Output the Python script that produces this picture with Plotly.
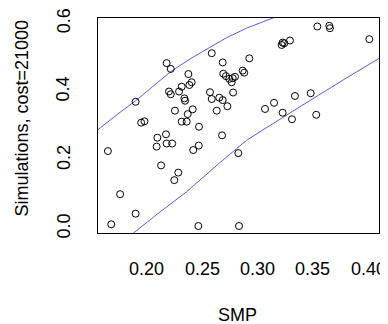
import plotly.graph_objects as go

# Scatter data (SMP vs simulations)
smp = [0.165, 0.168, 0.176, 0.190, 0.190, 0.195, 0.198, 0.209, 0.2096, 0.213,
       0.2174, 0.218, 0.223, 0.218, 0.2217, 0.2201, 0.2217, 0.2292, 0.2255, 0.2249,
       0.2285, 0.2316, 0.2376, 0.2406, 0.2385, 0.234, 0.2346, 0.2415, 0.237, 0.2316,
       0.2361, 0.2472, 0.242, 0.247, 0.2466, 0.2587, 0.2686, 0.2571, 0.2587, 0.2655,
       0.2686, 0.2632, 0.2728, 0.268, 0.2827, 0.2833, 0.2691, 0.2715, 0.2745, 0.2776,
       0.2797, 0.2767, 0.278, 0.2866, 0.288, 0.2926, 0.3068, 0.3149, 0.3227, 0.3311,
       0.3338, 0.348, 0.353, 0.3227, 0.3218, 0.3242, 0.3293, 0.354, 0.3648, 0.3654,
       0.4009]
sims = [0.219, 0.005, 0.093, 0.036, 0.363, 0.302, 0.306, 0.232, 0.258, 0.177,
        0.268, 0.241, 0.241, 0.476, 0.459, 0.393, 0.385, 0.393, 0.337, 0.134,
        0.156, 0.407, 0.444, 0.420, 0.412, 0.373, 0.366, 0.341, 0.327, 0.305,
        0.305, 0.290, 0.222, 0.235, 0.000, 0.505, 0.478, 0.391, 0.371, 0.375,
        0.368, 0.337, 0.350, 0.265, 0.213, 0.000, 0.445, 0.438, 0.430, 0.432,
        0.436, 0.420, 0.390, 0.454, 0.448, 0.490, 0.342, 0.360, 0.331, 0.312,
        0.380, 0.388, 0.325, 0.536, 0.529, 0.534, 0.542, 0.583, 0.585, 0.578,
        0.546]

# Upper and lower band curves
upper_x = [0.150, 0.1558, 0.175, 0.190, 0.205, 0.222, 0.240, 0.262, 0.272, 0.290, 0.3173, 0.33]
upper_y = [0.266, 0.281, 0.330, 0.366, 0.405, 0.452, 0.490, 0.531, 0.550, 0.578, 0.612, 0.628]
lower_x = [0.183, 0.188, 0.21, 0.236, 0.266, 0.29, 0.305, 0.319, 0.35, 0.38, 0.415]
lower_y = [-0.035, -0.021, 0.036, 0.100, 0.185, 0.250, 0.281, 0.310, 0.372, 0.432, 0.500]

x_ticks = [0.20, 0.25, 0.30, 0.35, 0.40]
x_ticktext = ["0.20", "0.25", "0.30", "0.35", "0.40"]
y_ticks = [0.0, 0.1, 0.2, 0.3, 0.4, 0.5, 0.6]
y_ticktext = ["0.0", "", "0.2", "", "0.4", "", "0.6"]

FONT = "Liberation Sans, Arial, sans-serif"
FS = 18
LINE_BLUE = "#5a5af0"
BLACK = "#000000"

# ---- page geometry (the page body adds an 8px margin) ----
OFF = 8
W, H = 388 - OFF, 324 - OFF
PLOT_L, PLOT_R, PLOT_T, PLOT_B = 97, 380, 17, 234   # page pixels of plot area
L, T = PLOT_L - OFF, PLOT_T - OFF
R = W - (PLOT_R - OFF)
B = H - (PLOT_B - OFF)
pw, ph = W - L - R, H - T - B

# axis scales: x 0.20 at page 146.7, 1108 px/unit; y 0.0 at page 226, 342.2 px/unit
X0_PX, X_SCALE = 146.7, 1108.0
Y0_PX, Y_SCALE = 226.0, 342.2


def xval(page_x):
    return 0.20 + (page_x - X0_PX) / X_SCALE


def yval(page_y):
    return (Y0_PX - page_y) / Y_SCALE


def px(page_x):
    return (page_x - OFF - L) / pw


def py(page_y):
    return (H - B - (page_y - OFF)) / ph


x_range = [xval(PLOT_L), xval(PLOT_R)]
y_range = [yval(PLOT_B), yval(PLOT_T)]
TICK_LEN = 11

fig = go.Figure()
fig.add_trace(go.Scatter(x=upper_x, y=upper_y, mode="lines",
                         line=dict(color=LINE_BLUE, width=1), hoverinfo="skip"))
fig.add_trace(go.Scatter(x=lower_x, y=lower_y, mode="lines",
                         line=dict(color=LINE_BLUE, width=1), hoverinfo="skip"))
fig.add_trace(go.Scatter(x=smp, y=sims, mode="markers",
                         marker=dict(symbol="circle-open", size=7, color=BLACK,
                                     line=dict(width=1, color=BLACK))))

# plot frame drawn along the axis ranges (outer half clipped -> 1px inside)
fig.add_trace(go.Scatter(
    x=[x_range[0], x_range[1], x_range[1], x_range[0], x_range[0]],
    y=[y_range[0], y_range[0], y_range[1], y_range[1], y_range[0]],
    mode="lines", line=dict(color=BLACK, width=2), hoverinfo="skip"))

# tick marks at the tick values, just outside the frame
fig.add_trace(go.Scatter(
    x=x_ticks, y=[yval(PLOT_B + TICK_LEN / 2)] * len(x_ticks), mode="markers",
    marker=dict(symbol="line-ns", size=TICK_LEN, color=BLACK, line=dict(width=1, color=BLACK)),
    cliponaxis=False, hoverinfo="skip"))
fig.add_trace(go.Scatter(
    x=[xval(PLOT_L - TICK_LEN / 2)] * len(y_ticks), y=y_ticks, mode="markers",
    marker=dict(symbol="line-ew", size=TICK_LEN, color=BLACK, line=dict(width=1, color=BLACK)),
    cliponaxis=False, hoverinfo="skip"))

tfont = dict(size=FS, family=FONT, color=BLACK)
annotations = [dict(text=t, xref="x", x=v, yref="paper", y=py(269),
                    xanchor="center", yanchor="middle", showarrow=False, font=tfont)
               for v, t in zip(x_ticks, x_ticktext)]
annotations += [dict(text=t, xref="paper", x=px(63.5), yref="y", y=v, textangle=-90,
                     xanchor="center", yanchor="middle", showarrow=False, font=tfont)
                for v, t in zip(y_ticks, y_ticktext) if t]
annotations += [
    dict(text="SMP", xref="paper", yref="paper", x=px(237.5), y=py(314.5),
         xanchor="center", yanchor="middle", showarrow=False, font=tfont),
    dict(text="Simulations, cost=21000", xref="paper", yref="paper",
         x=px(21), y=py(118.5), textangle=-90,
         xanchor="center", yanchor="middle", showarrow=False, font=tfont),
]

fig.update_layout(
    template="none",
    width=W, height=H,
    margin=dict(l=L, r=R, t=T, b=B, pad=0),
    paper_bgcolor="white", plot_bgcolor="white",
    showlegend=False,
    font=dict(family=FONT, size=FS, color=BLACK),
    xaxis=dict(range=x_range, showline=False, showgrid=False, zeroline=False,
               ticks="", showticklabels=False, fixedrange=True),
    yaxis=dict(range=y_range, showline=False, showgrid=False, zeroline=False,
               ticks="", showticklabels=False, fixedrange=True),
    annotations=annotations,
)

fig.write_html("out.html", config={"staticPlot": True})
